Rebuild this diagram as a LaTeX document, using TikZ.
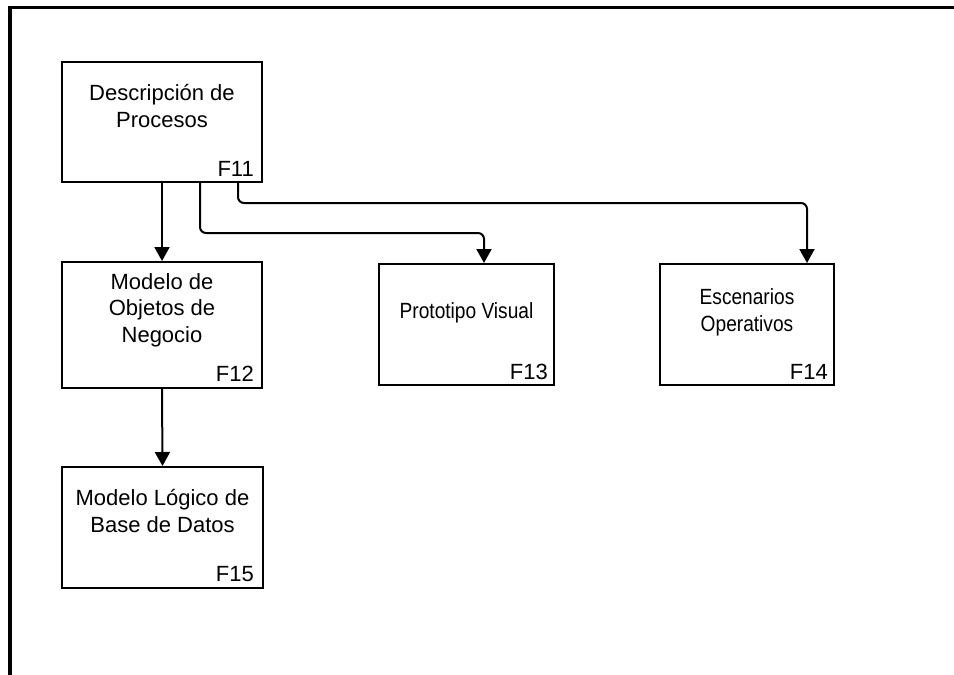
\documentclass[tikz,border=0pt]{standalone}
\usepackage{fontspec}
\setmainfont{Liberation Sans}
\newfontfamily\narrowsans{Liberation Sans}[FakeStretch=0.87]
\usetikzlibrary{arrows.meta}

\tikzset{
  card/.style={draw=black, line width=2pt, rectangle, inner sep=0pt, fill=white},
  cardtext/.style={align=center, inner sep=0pt, font=\fontsize{22}{26.5}\selectfont},
  narrowtext/.style={cardtext, font=\narrowsans\fontsize{22}{26.5}\selectfont},
  cardid/.style={anchor=base east, inner sep=0pt, font=\fontsize{22}{26.5}\selectfont},
  conn/.style={draw=black, line width=2pt, rounded corners=6pt,
    -{Triangle[width=15pt,length=14pt]}},
  frame/.style={draw=black, line width=3.5pt}
}

\begin{document}
\begin{tikzpicture}[x=1pt, y=-1pt]
  \useasboundingbox (0,0) rectangle (954,675);

  % page frame: top and left edges only
  \coordinate (fl) at (10,675);
  \coordinate (fc) at (10,7.5);
  \coordinate (fr) at (954,7.5);
  \draw[frame] (fl) -- (fc) -- (fr);

  % boxes
  \node[card, minimum width=200pt, minimum height=120pt] (f11) at (162,122) {};
  \node[card, minimum width=200pt, minimum height=126pt] (f12) at (162,325) {};
  \node[card, minimum width=175pt, minimum height=121pt] (f13) at (466.5,324.5) {};
  \node[card, minimum width=174pt, minimum height=121pt] (f14) at (747,324.5) {};
  \node[card, minimum width=201pt, minimum height=121pt] (f15) at (162.5,527.5) {};

  % box titles
  \node[cardtext] (t11) at (162,106) {Descripción de\\Procesos};
  \node[cardtext] (t12) at (162,310) {Modelo de\\Objetos de\\Negocio};
  \node[narrowtext] (t13) at (466.5,312.5) {Prototipo Visual};
  \node[narrowtext] (t14) at (747,312.5) {Escenarios\\Operativos};
  \node[cardtext] (t15) at (162.5,511) {Modelo Lógico de\\Base de Datos};

  % box identifiers
  \node[cardid] (i11) at ([xshift=-9pt,yshift=7pt]f11.south east) {F11};
  \node[cardid] (i12) at ([xshift=-9pt,yshift=8pt]f12.south east) {F12};
  \node[cardid] (i13) at ([xshift=-7pt,yshift=7pt]f13.south east) {F13};
  \node[cardid] (i14) at ([xshift=-7pt,yshift=7pt]f14.south east) {F14};
  \node[cardid] (i15) at ([xshift=-10pt,yshift=8pt]f15.south east) {F15};

  % connectors
  \draw[conn] (f11.south) -- (f12.north);
  \draw[conn] (f12.south) -- (f15.north);
  \draw[conn] ([xshift=38pt]f11.south) -- ++(0,50) -| ([xshift=17.5pt]f13.north);
  \draw[conn] ([xshift=76pt]f11.south) -- ++(0,20) -| ([xshift=60pt]f14.north);
\end{tikzpicture}
\end{document}
